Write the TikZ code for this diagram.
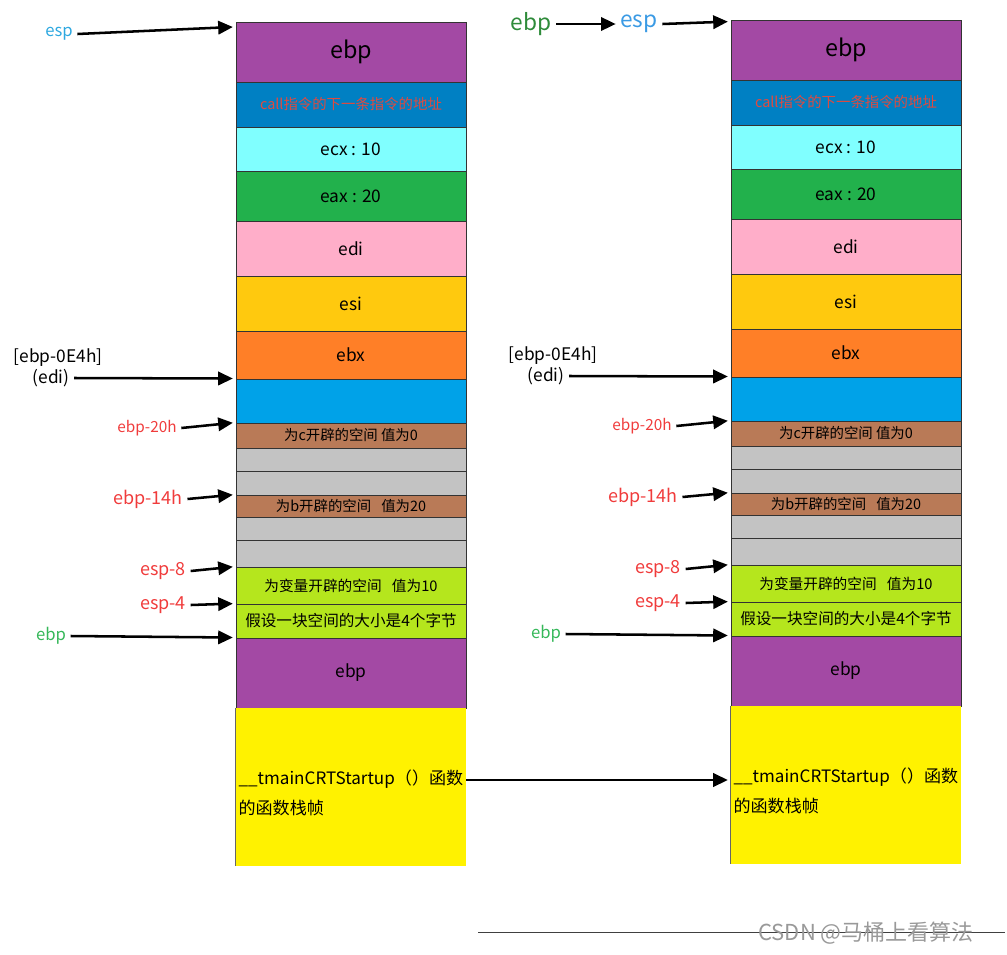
\documentclass[tikz,border=0pt]{standalone}
\usepackage{fontspec}
\setmainfont{Noto Sans CJK SC}
\usetikzlibrary{arrows.meta}
\definecolor{stkpurple}{HTML}{A349A4}
\definecolor{stkcall}{HTML}{0080C3}
\definecolor{stkcyan}{HTML}{80FFFF}
\definecolor{stkgreen}{HTML}{22B14C}
\definecolor{stkpink}{HTML}{FFAEC9}
\definecolor{stkamber}{HTML}{FFC90E}
\definecolor{stkorange}{HTML}{FF7F27}
\definecolor{stkblue}{HTML}{00A2E8}
\definecolor{stkbrown}{HTML}{B97A57}
\definecolor{stkgray}{HTML}{C3C3C3}
\definecolor{stklime}{HTML}{B5E61D}
\definecolor{stkyellow}{HTML}{FFF200}
\definecolor{lblred}{HTML}{F03C3C}
\definecolor{callred}{HTML}{E04A3F}
\definecolor{lblgreen}{HTML}{36B85A}
\definecolor{lbldkgreen}{HTML}{2E8B3A}
\definecolor{lblblue}{HTML}{2EA8E0}
\definecolor{lblblue2}{HTML}{3A9AE4}
\newcommand\fsz[2]{\fontsize{#1}{#2}\selectfont}
\newcommand\stackframe[1]{%
  \node[cell, fill=stkpurple, minimum height=45pt, font=\fsz{17.5}{20}] (#1-top) at (351,52) {ebp};
  \node[cell, fill=stkcall, minimum height=33.75pt, text=callred, font=\fsz{10.8}{13}] (#1-call) at (351,104.5) {call指令的下一条指令的地址};
  \node[cell, fill=stkcyan, minimum height=33pt] (#1-ecx) at (351,149) {ecx : 10};
  \node[cell, fill=stkgreen, minimum height=37.5pt] (#1-eax) at (351,196) {eax : 20};
  \node[cell, fill=stkpink, minimum height=41.25pt] (#1-edi) at (351,248.5) {edi};
  \node[cell, fill=stkamber, minimum height=41.25pt] (#1-esi) at (351,303.5) {esi};
  \node[cell, fill=stkorange, minimum height=36pt] (#1-ebx) at (351,355) {ebx};
  \node[cell, fill=stkblue, minimum height=33pt] (#1-blank) at (351,401) {};
  \node[cell, fill=stkbrown, minimum height=18.75pt, font=\fsz{10.8}{12}] (#1-c) at (351,435.5) {为c开辟的空间 值为0};
  \node[cell, fill=stkgray, minimum height=17.25pt] (#1-g1) at (351,459.5) {};
  \node[cell, fill=stkgray, minimum height=18pt] (#1-g2) at (351,483) {};
  \node[cell, fill=stkbrown, minimum height=16.5pt, font=\fsz{10.8}{12}] (#1-b) at (351,506) {为b开辟的空间\hspace{0.7em}值为20};
  \node[cell, fill=stkgray, minimum height=17.25pt] (#1-g3) at (351,528.5) {};
  \node[cell, fill=stkgray, minimum height=20.25pt] (#1-g4) at (351,553.5) {};
  \node[cell, fill=stklime, minimum height=27.75pt, font=\fsz{11}{13}] (#1-var) at (351,585.5) {为变量开辟的空间\hspace{0.7em}值为10};
  \node[cell, fill=stklime, minimum height=25.5pt, font=\fsz{11.7}{13}] (#1-unit) at (351,621) {假设一块空间的大小是4个字节};
  \node[cell, fill=stkpurple, minimum height=52.5pt] (#1-ret) at (351,673) {ebp};
  \node[cell, fill=stkyellow, draw=none, minimum height=118.5pt] (#1-main) at (351,787) {};
  \draw[black!60, line width=0.7pt] (#1-main.north west) -- (#1-main.south west);
  \node[anchor=west, align=left, inner sep=1pt, font=\fsz{12.8}{22.5}] (#1-txt) at (237,793) {\_\_tmainCRTStartup（）函数\\的函数栈帧};
  \node[font=\fsz{13}{15}] (#1-edi1) at (58,358) {[ebp-0E4h]};
  \node[font=\fsz{13}{15}] (#1-edi2) at (51,378) {(edi)};
  \node[text=lblred, font=\fsz{11.5}{13}] (#1-l20) at (147,428) {ebp-20h};
  \node[text=lblred, font=\fsz{13.5}{15}] (#1-l14) at (148,499) {ebp-14h};
  \node[text=lblred, font=\fsz{13.5}{15}] (#1-l8) at (163,571) {esp-8};
  \node[text=lblred, font=\fsz{13.5}{15}] (#1-l4) at (163,605) {esp-4};
  \node[text=lblgreen, font=\fsz{12.5}{15}] (#1-lbp) at (51,636) {ebp};
  \draw[ptr] (#1-edi2.east) -- (#1-blank.north west);
  \draw[ptr] (#1-l20.east) -- (#1-c.north west);
  \draw[ptr] (#1-l14.east) -- (#1-b.north west);
  \draw[ptr] (#1-l8.east) -- (#1-var.north west);
  \draw[ptr] (#1-l4.east) -- (#1-unit.north west);
  \draw[ptr] (#1-lbp.east) -- (#1-ret.north west);
}

\begin{document}
\begin{tikzpicture}[x=0.75pt, y=-0.75pt, font=\fsz{13}{15},
  cell/.style={draw=black!80, line width=0.7pt, minimum width=172.5pt, inner sep=0pt},
  ptr/.style={-{Triangle[length=11pt,width=10pt]}, line width=1.9pt, shorten >=2pt}]
  \useasboundingbox (0,0) rectangle (1007,954);
  \stackframe{L}
  \begin{scope}[shift={(495,-2)}]
    \stackframe{R}
  \end{scope}
  \node[text=lblblue, font=\fsz{12.5}{14}] (L-esp) at (59,34) {esp};
  \draw[ptr] (L-esp.east) -- ([yshift=-4pt]L-top.north west);
  \node[text=lbldkgreen, font=\fsz{17}{20}] (R-bp0) at (531,24) {ebp};
  \node[text=lblblue2, font=\fsz{17}{20}] (R-esp) at (639,24) {esp};
  \draw[ptr, shorten >=0pt] (R-bp0.east) -- (R-esp.west);
  \draw[ptr] (R-esp.east) -- ([yshift=-1.5pt]R-top.north west);
  \draw[ptr] ([yshift=5.25pt]L-main.east) -- ([yshift=3.75pt]R-main.west);
  \coordinate (wm-l) at (478,932);
  \coordinate (wm-r) at (1005,932);
  \draw[black!75, line width=0.6pt] (wm-l) -- (wm-r);
  \node[text=black!40, font=\fsz{16.5}{18}] (wm) at (866,933) {CSDN @马桶上看算法};
\end{tikzpicture}
\end{document}
